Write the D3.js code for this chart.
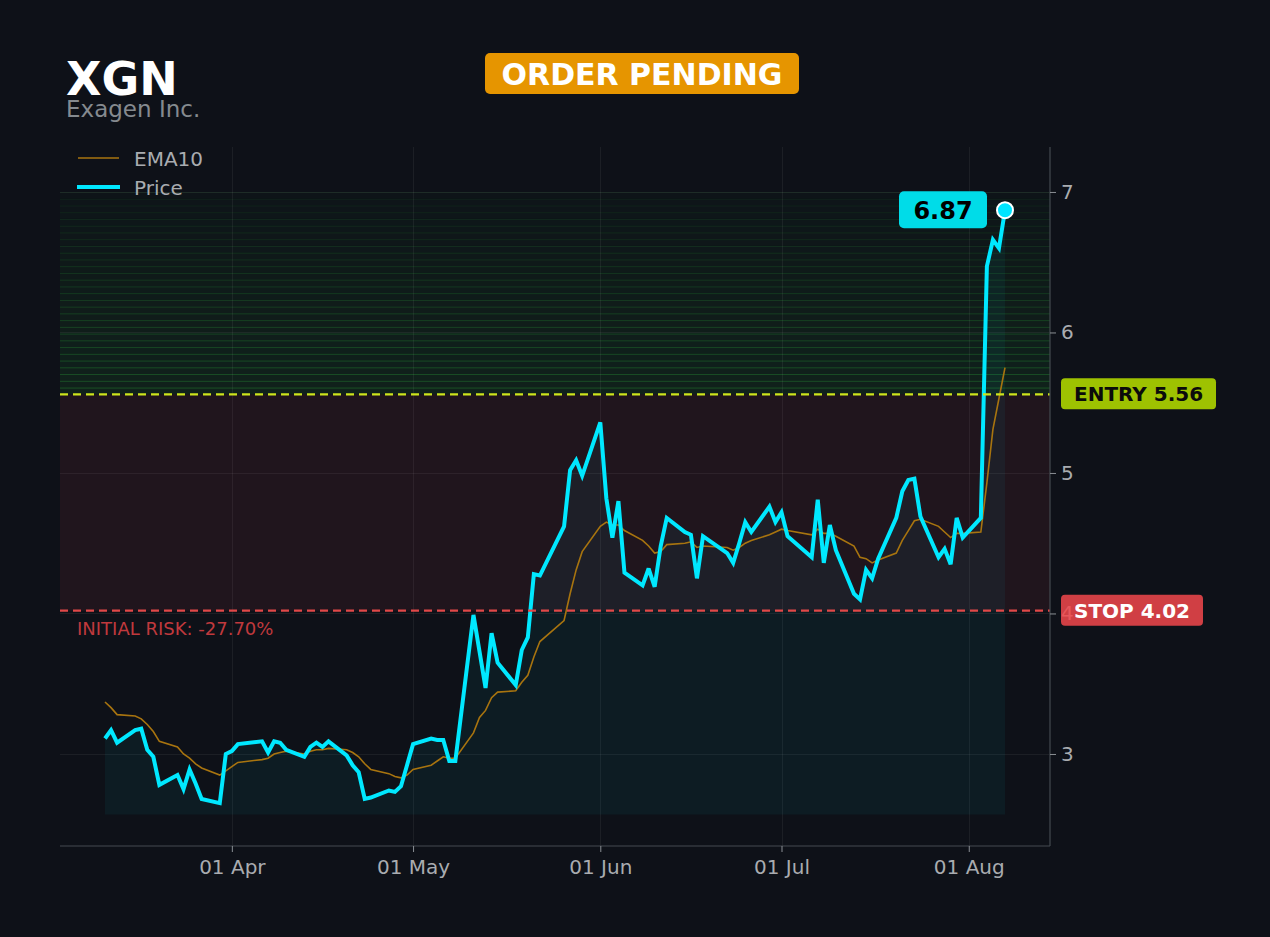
<!DOCTYPE html>
<html>
<head>
<meta charset="utf-8">
<script src="https://cdn.jsdelivr.net/npm/d3@7"></script>
<style>
  html, body { margin: 0; padding: 0; background: #0e1118; }
  svg { display: block; font-family: "DejaVu Sans", sans-serif; }
</style>
</head>
<body>
<svg id="chart" width="1270" height="937"></svg>
<script>
// ---------------- DATA ----------------
const ticker = "XGN";
const company = "Exagen Inc.";
const status = "ORDER PENDING";
const dates = [
  "2026-03-11","2026-03-12","2026-03-13","2026-03-16","2026-03-17","2026-03-18","2026-03-19","2026-03-20",
  "2026-03-23","2026-03-24","2026-03-25","2026-03-26","2026-03-27","2026-03-30","2026-03-31",
  "2026-04-01","2026-04-02","2026-04-06","2026-04-07","2026-04-08","2026-04-09","2026-04-10",
  "2026-04-13","2026-04-14","2026-04-15","2026-04-16","2026-04-17","2026-04-20","2026-04-21",
  "2026-04-22","2026-04-23","2026-04-24","2026-04-27","2026-04-28","2026-04-29","2026-04-30",
  "2026-05-01","2026-05-04","2026-05-05","2026-05-06","2026-05-07","2026-05-08","2026-05-11",
  "2026-05-12","2026-05-13","2026-05-14","2026-05-15","2026-05-18","2026-05-19","2026-05-20",
  "2026-05-21","2026-05-22","2026-05-26","2026-05-27","2026-05-28","2026-05-29",
  "2026-06-01","2026-06-02","2026-06-03","2026-06-04","2026-06-05","2026-06-08","2026-06-09",
  "2026-06-10","2026-06-11","2026-06-12","2026-06-15","2026-06-16","2026-06-17","2026-06-18",
  "2026-06-22","2026-06-23","2026-06-24","2026-06-25","2026-06-26","2026-06-29","2026-06-30",
  "2026-07-01","2026-07-02","2026-07-06","2026-07-07","2026-07-08","2026-07-09","2026-07-10",
  "2026-07-13","2026-07-14","2026-07-15","2026-07-16","2026-07-17","2026-07-20","2026-07-21",
  "2026-07-22","2026-07-23","2026-07-24","2026-07-27","2026-07-28","2026-07-29","2026-07-30","2026-07-31",
  "2026-08-03","2026-08-04","2026-08-05","2026-08-06","2026-08-07"
];
const price = [
  3.11,3.17,3.08,3.17,3.18,3.03,2.98,2.78,2.85,2.75,2.89,2.79,2.68,2.65,3.00,
  3.02,3.07,3.09,3.01,3.09,3.08,3.03,2.98,3.05,3.08,3.05,3.09,2.99,2.92,2.87,2.68,2.69,2.74,2.73,2.77,2.92,
  3.07,3.11,3.10,3.10,2.95,2.95,3.99,3.73,3.47,3.86,3.65,3.49,3.74,3.83,4.28,4.27,4.62,5.02,5.09,4.98,
  5.36,4.82,4.54,4.80,4.29,4.20,4.32,4.19,4.48,4.68,4.58,4.56,4.25,4.55,4.43,4.36,4.50,4.65,4.58,4.76,4.65,
  4.72,4.55,4.40,4.81,4.36,4.63,4.45,4.14,4.10,4.31,4.25,4.39,4.68,4.87,4.95,4.96,4.69,4.40,4.46,4.35,4.68,4.54,
  4.68,6.47,6.66,6.60,6.87
];
const ema10 = [
  3.37,3.33,3.28,3.27,3.25,3.21,3.16,3.09,3.05,3.00,2.97,2.93,2.90,2.85,2.88,
  2.91,2.94,2.96,2.97,3.00,3.01,3.02,3.00,3.02,3.03,3.03,3.04,3.03,3.01,2.98,2.93,2.89,2.86,2.84,2.83,2.85,
  2.89,2.92,2.95,2.98,2.97,2.97,3.15,3.26,3.31,3.40,3.44,3.45,3.51,3.56,3.69,3.80,3.95,4.14,4.31,4.44,
  4.62,4.65,4.63,4.63,4.59,4.52,4.48,4.43,4.44,4.49,4.50,4.51,4.47,4.48,4.47,4.45,4.47,4.50,4.52,4.56,4.58,
  4.60,4.59,4.56,4.60,4.57,4.57,4.55,4.48,4.40,4.39,4.36,4.38,4.43,4.52,4.59,4.66,4.67,4.62,4.58,4.54,4.57,4.57,
  4.58,4.93,5.31,5.53,5.75
];
const entryPrice = 5.56;
const stopPrice = 4.02;
const targetTop = 7.0;
const yTicks = [3, 4, 5, 6, 7];
const yDomain = [2.345, 7.32];
const areaBase = 2.57;
const monthTicks = ["2026-04-01","2026-05-01","2026-06-01","2026-07-01","2026-08-01"];

// ---------------- SETUP ----------------
const W = 1270, H = 937;
const L = 60, R = 1050, T = 147, B = 846;
const parse = d3.utcParse("%Y-%m-%d");
const data = dates.map((d, i) => ({ date: parse(d), price: price[i], ema: ema10[i] }));
const ext = d3.extent(data, d => d.date);
const pad = (ext[1] - ext[0]) * 0.05;
const x = d3.scaleUtc().domain([new Date(+ext[0] - pad), new Date(+ext[1] + pad)]).range([L, R]);
const y = d3.scaleLinear().domain(yDomain).range([B, T]);

const svg = d3.select("#chart");
svg.append("rect").attr("width", W).attr("height", H).attr("fill", "#0e1118");

// target (green) zone made of stacked bands
const nb = 30;
const bandVals = d3.range(nb + 1).map(i => targetTop - (targetTop - entryPrice) * i / nb);
const gz = svg.append("g");
for (let i = 0; i < nb; i++) {
  const t = i / (nb - 1);
  gz.append("rect")
    .attr("x", L).attr("width", R - L)
    .attr("y", y(bandVals[i])).attr("height", y(bandVals[i + 1]) - y(bandVals[i]))
    .attr("fill", "#2bd142").attr("fill-opacity", 0.02 + 0.07 * t);
  gz.append("line")
    .attr("x1", L).attr("x2", R)
    .attr("y1", y(bandVals[i]) + 0.5).attr("y2", y(bandVals[i]) + 0.5)
    .attr("stroke", "#35c943").attr("stroke-opacity", 0.07 + 0.22 * t).attr("stroke-width", 1);
}

// risk zone
svg.append("rect")
  .attr("x", L).attr("width", R - L)
  .attr("y", y(entryPrice)).attr("height", y(stopPrice) - y(entryPrice))
  .attr("fill", "#e0405a").attr("fill-opacity", 0.09);

// grid
const grid = svg.append("g").attr("stroke", "#ffffff").attr("stroke-opacity", 0.06).attr("stroke-width", 1);
yTicks.forEach(v => grid.append("line").attr("x1", L).attr("x2", R).attr("y1", Math.round(y(v)) + 0.5).attr("y2", Math.round(y(v)) + 0.5));
monthTicks.forEach(m => grid.append("line").attr("x1", Math.round(x(parse(m))) + 0.5).attr("x2", Math.round(x(parse(m))) + 0.5).attr("y1", T).attr("y2", B));

// area under price
svg.append("path").datum(data)
  .attr("d", d3.area().x(d => x(d.date)).y0(y(areaBase)).y1(d => y(d.price)))
  .attr("fill", "#00e5ff").attr("fill-opacity", 0.05);

// EMA line
svg.append("path").datum(data)
  .attr("d", d3.line().x(d => x(d.date)).y(d => y(d.ema)))
  .attr("fill", "none").attr("stroke", "#a8740f").attr("stroke-width", 1.6);

// price line
svg.append("path").datum(data)
  .attr("d", d3.line().x(d => x(d.date)).y(d => y(d.price)))
  .attr("fill", "none").attr("stroke", "#00e8ff").attr("stroke-width", 4)
  .attr("stroke-linejoin", "miter").attr("stroke-miterlimit", 3);

// entry / stop lines
svg.append("line").attr("x1", L).attr("x2", R).attr("y1", y(entryPrice)).attr("y2", y(entryPrice))
  .attr("stroke", "#cde51c").attr("stroke-width", 2.2).attr("stroke-dasharray", "8,5");
svg.append("line").attr("x1", L).attr("x2", R).attr("y1", y(stopPrice)).attr("y2", y(stopPrice))
  .attr("stroke", "#e04848").attr("stroke-width", 2.2).attr("stroke-dasharray", "8,5");

// axes
const xAxis = svg.append("g").attr("transform", `translate(0,${B})`)
  .call(d3.axisBottom(x).tickValues(monthTicks.map(parse)).tickFormat(d3.utcFormat("%d %b")).tickSizeOuter(0).tickSize(6));
const yAxis = svg.append("g").attr("transform", `translate(${R},0)`)
  .call(d3.axisRight(y).tickValues(yTicks).tickFormat(d3.format("d")).tickSizeOuter(0).tickSize(6));
[xAxis, yAxis].forEach(g => {
  g.select(".domain").attr("stroke", "#444a50").attr("stroke-width", 1.2);
  g.selectAll(".tick line").attr("stroke", "#8a8f94");
  g.selectAll(".tick text").attr("fill", "#a9acb0").attr("font-size", 20).attr("font-family", "DejaVu Sans");
});
xAxis.selectAll(".tick text").attr("dy", "0.95em");
yAxis.selectAll(".tick text").attr("x", 11);
yAxis.select(".domain").attr("d", `M0,${T}V${B}`);
xAxis.select(".domain").attr("d", `M${L},0H${R}`);

// initial risk text
const risk = (stopPrice - entryPrice) / entryPrice * 100;
svg.append("text").attr("x", 77).attr("y", y(stopPrice) + 24)
  .attr("fill", "#c0393d").attr("font-size", 18)
  .text(`INITIAL RISK: ${risk.toFixed(2)}%`);

// entry/stop badges
function badge(yy, w, fill, op, txtColor, label) {
  const g = svg.append("g");
  g.append("rect").attr("x", 1061).attr("y", yy - 16).attr("width", w).attr("height", 31).attr("rx", 4)
    .attr("fill", fill).attr("fill-opacity", op);
  g.append("text").attr("x", 1074).attr("y", yy + 7).attr("fill", txtColor)
    .attr("font-size", 20).attr("font-weight", "bold").text(label);
}
badge(y(entryPrice), 155, "#a7cc00", 0.95, "#0b0b0b", `ENTRY ${entryPrice.toFixed(2)}`);
badge(y(stopPrice), 142, "#f2484c", 0.85, "#ffffff", `STOP ${stopPrice.toFixed(2)}`);

// last point + badge
const last = data[data.length - 1];
const lx = x(last.date), ly = y(last.price);
svg.append("rect").attr("x", lx - 106).attr("y", ly - 19).attr("width", 88).attr("height", 37).attr("rx", 5)
  .attr("fill", "#00dce8");
svg.append("text").attr("x", lx - 62).attr("y", ly + 8.5).attr("text-anchor", "middle")
  .attr("fill", "#000").attr("font-size", 24).attr("font-weight", "bold").text(last.price.toFixed(2));
svg.append("circle").attr("cx", lx).attr("cy", ly).attr("r", 8)
  .attr("fill", "#00e5ff").attr("stroke", "#ffffff").attr("stroke-width", 2);

// title + subtitle (one text element)
const title = svg.append("text").attr("x", 66).attr("y", 95);
title.append("tspan").attr("x", 66).attr("y", 95).attr("fill", "#ffffff")
  .attr("font-size", 46).attr("font-weight", "bold").text(ticker);
title.append("tspan").attr("x", 66).attr("y", 117).attr("fill", "#858a8f")
  .attr("font-size", 23).text(company);

// status badge
svg.append("rect").attr("x", 485).attr("y", 53).attr("width", 314).attr("height", 41).attr("rx", 5)
  .attr("fill", "#e69500");
svg.append("text").attr("x", 642).attr("y", 84.5).attr("text-anchor", "middle")
  .attr("fill", "#ffffff").attr("font-size", 30).attr("font-weight", "bold").text(status);

// legend
const lg = svg.append("g");
lg.append("line").attr("x1", 78).attr("x2", 119).attr("y1", 158).attr("y2", 158).attr("stroke", "#a8740f").attr("stroke-width", 1.6);
lg.append("line").attr("x1", 77).attr("x2", 120).attr("y1", 187).attr("y2", 187).attr("stroke", "#00e8ff").attr("stroke-width", 4);
lg.append("text").attr("x", 134).attr("y", 165.5).attr("fill", "#a9acb0").attr("font-size", 20).text("EMA10");
lg.append("text").attr("x", 134).attr("y", 194.5).attr("fill", "#a9acb0").attr("font-size", 20).text("Price");
</script>
</body>
</html>
